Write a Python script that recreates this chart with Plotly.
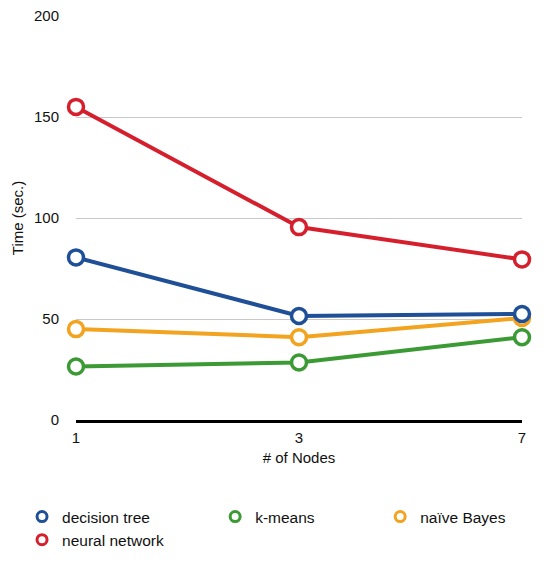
import plotly.graph_objects as go

nodes = ["1", "3", "7"]
decision_tree = [80.5, 51.5, 52.5]
k_means = [26.5, 28.5, 41]
naive_bayes = [45, 41, 50.5]
neural_network = [155, 95.5, 79.5]
y_ticks = [0, 50, 100, 150, 200]

colors = {
    "decision tree": "#1f4f96",
    "k-means": "#3c9a35",
    "naïve Bayes": "#f2a31f",
    "neural network": "#d61f2d",
}

data = {
    "decision tree": decision_tree,
    "k-means": k_means,
    "naïve Bayes": naive_bayes,
    "neural network": neural_network,
}
legend_of = {
    "decision tree": "legend",
    "neural network": "legend",
    "k-means": "legend2",
    "naïve Bayes": "legend3",
}

fig = go.Figure()
for name in ["naïve Bayes", "k-means", "decision tree", "neural network"]:
    fig.add_trace(go.Scatter(
        x=nodes, y=data[name], name=name, mode="lines+markers",
        line=dict(color=colors[name], width=4),
        marker=dict(symbol="circle", size=15, color="white",
                    line=dict(color=colors[name], width=3.5)),
        cliponaxis=False, showlegend=False,
    ))

# legend entries (marker only)
for name in ["decision tree", "neural network", "k-means", "naïve Bayes"]:
    fig.add_trace(go.Scatter(
        x=[None], y=[None], name=name, mode="markers",
        marker=dict(symbol="circle", size=10, color="white",
                    line=dict(color=colors[name], width=3)),
        legend=legend_of[name], showlegend=True,
    ))

lfont = dict(family="Liberation Sans, Arial, sans-serif", size=15.5, color="#111")
legstyle = dict(font=lfont, bgcolor="rgba(0,0,0,0)", xanchor="left", yanchor="top",
                itemwidth=30, tracegroupgap=0, traceorder="normal", orientation="v")

fig.update_layout(
    width=545, height=571,
    margin=dict(l=76, r=23, t=16, b=151, autoexpand=False),
    paper_bgcolor="white", plot_bgcolor="white",
    font=dict(family="Liberation Sans, Arial, sans-serif", size=15, color="#111"),
    xaxis=dict(type="category", range=[0, 2], showgrid=False, automargin=False,
               showline=True, linecolor="black", linewidth=3,
               ticks="", ticklabelstandoff=2, tickfont=dict(size=15),
               title=dict(text="# of Nodes", standoff=8, font=dict(size=15))),
    yaxis=dict(range=[0, 200], tickvals=y_ticks, showgrid=True, automargin=False,
               gridcolor="#c8c8c8", gridwidth=1, zeroline=False,
               showline=False, ticks="", ticklabelstandoff=16, tickfont=dict(size=15),
               title=dict(text="Time (sec.)", standoff=6, font=dict(size=15))),
    legend=dict(x=-0.121, y=-0.198, **legstyle),
    legend2=dict(x=0.312, y=-0.198, **legstyle),
    legend3=dict(x=0.682, y=-0.198, **legstyle),
)

fig.write_html("out.html")
